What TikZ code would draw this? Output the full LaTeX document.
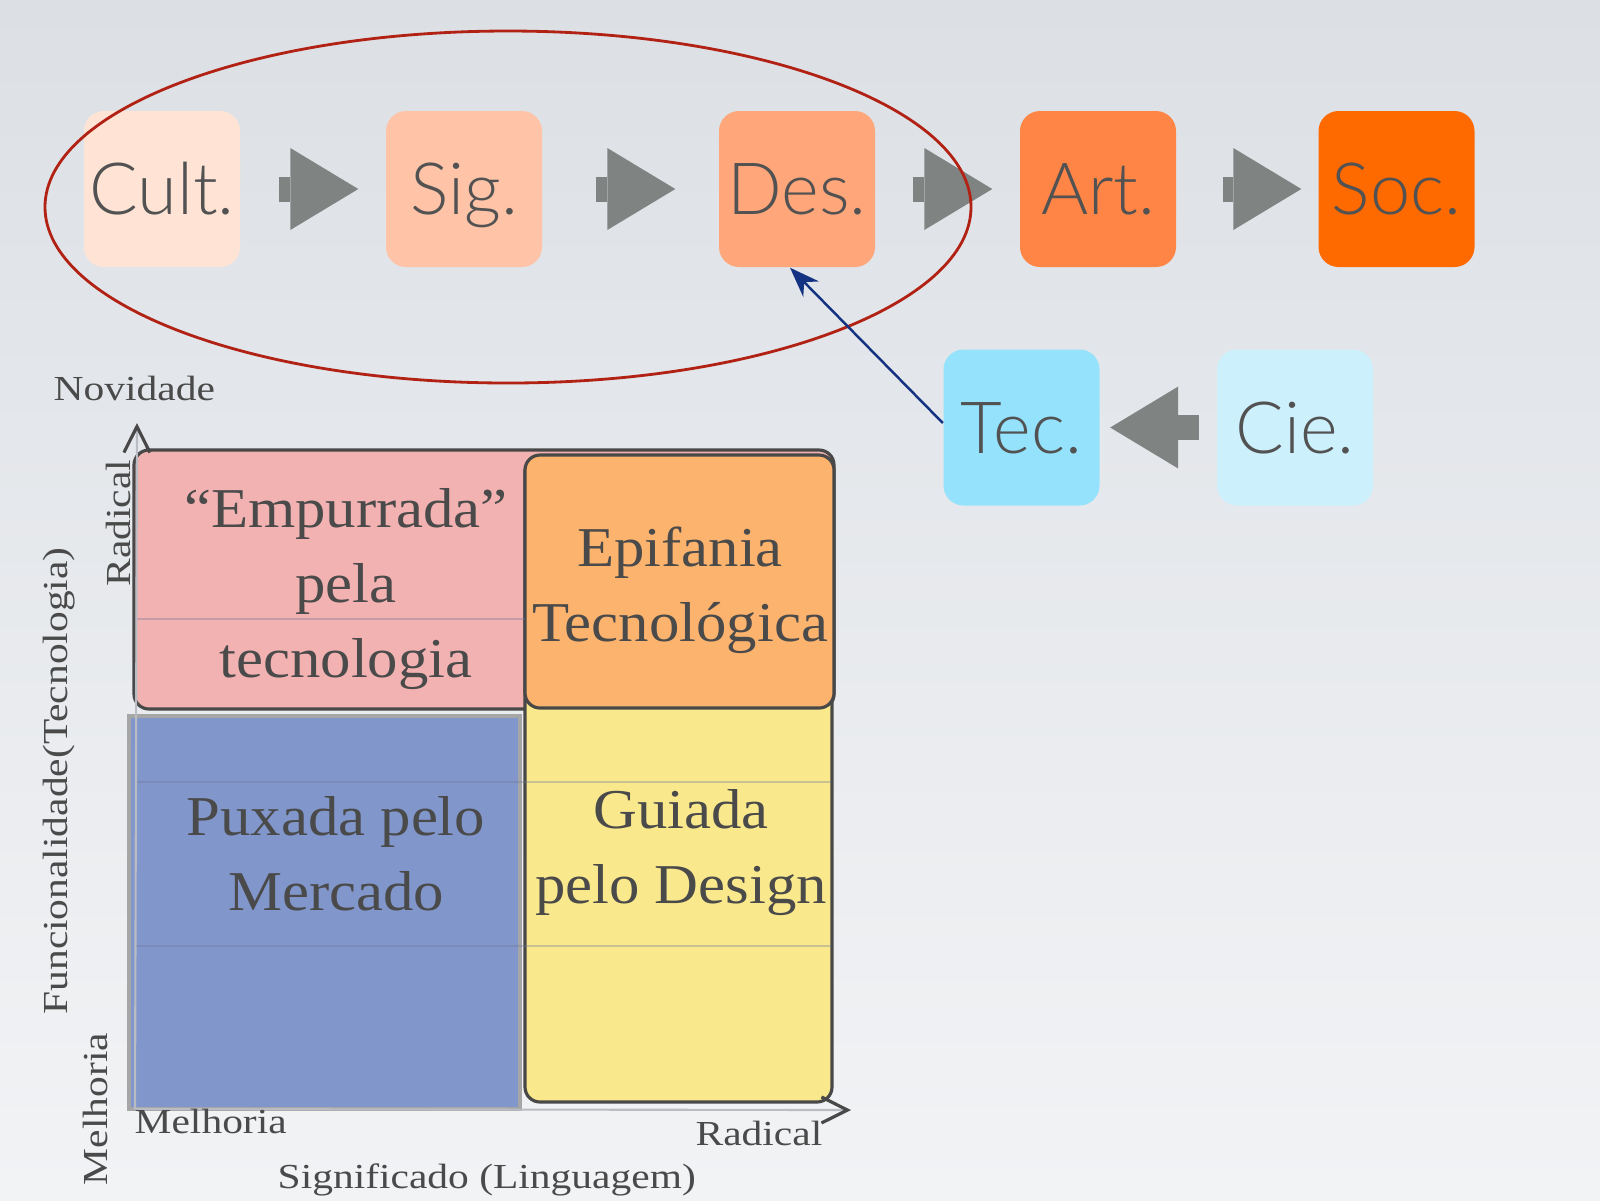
\documentclass[tikz,border=0pt]{standalone}
\usepackage{fontspec}
\usepackage{xcolor}
\usepackage{tikz}
\usetikzlibrary{arrows.meta,positioning,calc}
\setmainfont{Liberation Serif}
\newfontfamily\boxfont{Lato Light}
\newfontfamily\quadfont[FakeStretch=1.08]{Liberation Serif}
\newfontfamily\axisfont[FakeStretch=1.18]{Liberation Serif}
\definecolor{bgtop}{RGB}{220,224,229}
\definecolor{bgbot}{RGB}{242,243,245}
\definecolor{stagetext}{RGB}{82,82,82}
\definecolor{cultfill}{RGB}{255,228,214}
\definecolor{sigfill}{RGB}{255,196,168}
\definecolor{desfill}{RGB}{255,166,122}
\definecolor{artfill}{RGB}{255,133,71}
\definecolor{socfill}{RGB}{255,106,0}
\definecolor{tecfill}{RGB}{148,226,252}
\definecolor{ciefill}{RGB}{205,240,253}
\definecolor{arrgray}{RGB}{127,132,130}
\definecolor{ringred}{RGB}{178,34,20}
\definecolor{navy}{RGB}{20,50,130}
\definecolor{pinkq}{RGB}{243,178,178}
\definecolor{orangeq}{RGB}{251,179,110}
\definecolor{blueq}{RGB}{129,150,202}
\definecolor{yellowq}{RGB}{250,233,140}
\definecolor{quadedge}{RGB}{72,72,72}
\definecolor{qtext}{RGB}{74,74,74}
\definecolor{axisgray}{RGB}{185,188,195}
\definecolor{gridline}{RGB}{110,120,150}
\tikzset{
  stage/.style={rectangle, rounded corners=2mm, minimum width=1.56cm,
                minimum height=1.56cm, inner sep=0pt, text=stagetext,
                font=\boxfont\fontsize{20.5}{24}\selectfont,
                text height=14.7pt, text depth=0pt},
  blockarr/.style={draw=arrgray, line width=2.5mm,
                   -{Triangle[length=6.8mm, width=8.2mm, line width=0pt]}},
  pusharr/.style={draw=navy, line width=0.7pt, -{Stealth[length=3mm, width=2.2mm]}},
  focusring/.style={draw=ringred, line width=0.8pt},
  quad/.style={draw=quadedge, line width=0.9pt, rounded corners=1.5mm},
  quadtxt/.style={font=\quadfont\fontsize{16}{21.3}\selectfont, align=center,
                  text=qtext, inner sep=0pt},
  axlbl/.style={font=\axisfont\fontsize{10}{12}\selectfont, text=qtext, inner sep=0pt},
  axisln/.style={draw=axisgray, line width=0.6pt},
  chev/.style={-{Straight Barb[color=quadedge, length=2.6mm, width=2.6mm, line width=0.9pt]}},
  gridln/.style={draw=gridline, opacity=0.35, line width=0.5pt},
}
\begin{document}
\begin{tikzpicture}
  \useasboundingbox (0,0) rectangle (16,-12);
  \shade[top color=bgtop, bottom color=bgbot] (0,0) rectangle (16,-12);
  % chain of stages
  \node[stage, fill=cultfill] (cult) at (1.62,-1.89) {Cult.};
  \node[stage, fill=sigfill] (sig) at (4.64,-1.89) {Sig.};
  \node[stage, fill=desfill] (des) at (7.97,-1.89) {Des.};
  \node[stage, fill=artfill] (art) at (10.98,-1.89) {Art.};
  \node[stage, fill=socfill] (soc) at (13.965,-1.89) {Soc.};
  \node[stage, fill=tecfill] (tec) at (10.215,-4.275) {Tec.};
  \node[stage, fill=ciefill] (cie) at (12.95,-4.275) {Cie.};
  \draw[blockarr, shorten <=3.8mm, shorten >=2.7mm] (cult) -- (sig);
  \draw[blockarr, shorten <=5.3mm, shorten >=4.3mm] (sig) -- (des);
  \draw[blockarr, shorten <=3.7mm, shorten >=2.7mm] (des) -- (art);
  \draw[blockarr, shorten <=4.6mm, shorten >=1.65mm] (art) -- (soc);
  \draw[blockarr, shorten <=1.75mm, shorten >=1.0mm] (cie) -- (tec);
  \draw[focusring] (5.08,-2.07) ellipse [x radius=4.63, y radius=1.76];
  \draw[pusharr] ([yshift=0.45mm]tec.west) -- ([xshift=-0.7mm]des.south);
  % innovation matrix
  \coordinate (org) at (1.35,-11.09);
  \draw[quad, fill=pinkq] (1.34,-4.50) rectangle (8.34,-7.09);
  \draw[quad, fill=yellowq] (5.25,-4.57) rectangle (8.32,-11.02);
  \draw[quad, fill=orangeq] (5.25,-4.55) rectangle (8.34,-7.08);
  \draw[draw=gray!70, line width=1pt, fill=blueq] (1.29,-7.16) rectangle (5.20,-11.09);
  \draw[gridln] (1.35,-6.19) -- (5.25,-6.19);
  \foreach \y in {-7.82,-9.46}
    \draw[gridln] (1.35,\y) -- (8.31,\y);
  \draw[axisln, chev] (org) -- (1.37,-4.23);
  \draw[axisln, chev] (org) -- (8.51,-11.10);
  \node[quadtxt, anchor=base] (push) at (3.46,-6.77) {“Empurrada”\\pela\\tecnologia};
  \node[quadtxt, anchor=base] (epi) at (6.80,-6.41) {Epifania\\Tecnológica};
  \node[quadtxt, anchor=base] (pull) at (3.36,-9.10) {Puxada pelo\\Mercado};
  \node[quadtxt, anchor=base] (guide) at (6.81,-9.03) {Guiada\\pelo Design};
  % axis labels
  \node[axlbl, anchor=base west] (nov) at (0.53,-4.00) {Novidade};
  \node[axlbl, anchor=base west] (melx) at (1.34,-11.33) {Melhoria};
  \node[axlbl, anchor=base east] (radx) at (8.23,-11.45) {Radical};
  \node[axlbl, anchor=base west] (xtitle) at (2.77,-11.88) {Significado (Linguagem)};
  \node[axlbl, rotate=90] (rady) at (1.18,-5.23) {Radical};
  \node[axlbl, rotate=90] (ytitle) at (0.59,-7.81) {Funcionalidade(Tecnologia)};
  \node[axlbl, rotate=90] (mely) at (0.95,-11.09) {Melhoria};
\end{tikzpicture}
\end{document}
